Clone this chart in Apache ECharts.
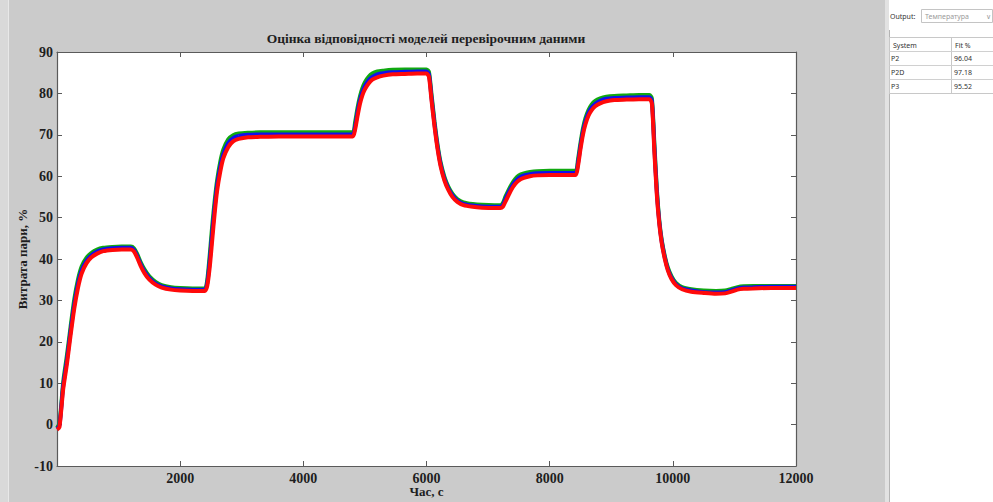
<!DOCTYPE html>
<html>
<head>
<meta charset="utf-8">
<script src="https://cdn.jsdelivr.net/npm/echarts@6/dist/echarts.min.js"></script>
<style>
  html, body { margin: 0; padding: 0; background: #cbcbcb; }
  #chart { width: 993px; height: 502px; }
</style>
</head>
<body>
<div id="chart"></div>
<script>
// Time, s
const timeS = [
  0, 40, 100, 160, 220, 280, 340, 400, 480, 560,
  650, 750, 900, 1050, 1200, 1250, 1300, 1360, 1420, 1500,
  1600, 1700, 1850, 2000, 2200, 2400, 2440, 2480, 2520, 2560,
  2600, 2650, 2700, 2780, 2860, 2950, 3100, 3300, 3600, 4000,
  4400, 4800, 4840, 4880, 4920, 4960, 5000, 5060, 5120, 5200,
  5300, 5450, 5650, 5850, 6000, 6040, 6080, 6130, 6180, 6230,
  6290, 6350, 6420, 6500, 6600, 6750, 6900, 7100, 7200, 7240,
  7280, 7330, 7380, 7440, 7500, 7580, 7680, 7800, 8000, 8200,
  8420, 8460, 8500, 8540, 8580, 8630, 8680, 8740, 8820, 8920,
  9050, 9250, 9450, 9620, 9660, 9700, 9740, 9780, 9820, 9870,
  9920, 9980, 10050, 10150, 10300, 10500, 10700, 10850, 10950, 11050,
  11150, 11300, 11600, 12000
];

// Model outputs, steam flow %
const modelGreen = [
  -0.8, 0.3, 10.2, 16.6, 23.6, 30.2, 35.0, 38.2, 40.3, 41.5,
  42.3, 42.7, 42.9, 43.0, 43.0, 42.6, 41.3, 39.2, 37.5, 35.8,
  34.5, 33.7, 33.2, 33.0, 32.9, 32.9, 35.0, 41.0, 48.0, 54.0,
  59.0, 63.4, 66.4, 68.9, 69.9, 70.3, 70.5, 70.6, 70.6, 70.6,
  70.6, 70.6, 73.0, 76.5, 79.3, 81.3, 82.7, 84.0, 84.8, 85.3,
  85.5, 85.7, 85.8, 85.8, 85.8, 85.2, 80.0, 73.3, 67.6, 63.3,
  59.9, 57.6, 55.8, 54.5, 53.7, 53.3, 53.1, 53.0, 53.0, 53.5,
  55.0, 56.6, 58.0, 59.3, 60.2, 60.7, 61.0, 61.2, 61.3, 61.3,
  61.3, 64.0, 68.0, 71.5, 74.0, 76.0, 77.3, 78.2, 78.8, 79.2,
  79.4, 79.5, 79.6, 79.6, 78.8, 68.0, 57.0, 49.4, 44.6, 40.7,
  37.9, 35.8, 34.2, 33.2, 32.7, 32.4, 32.3, 32.4, 32.8, 33.2,
  33.4, 33.5, 33.5, 33.5
];

const modelBlue = [
  -1.0, -0.2, 9.3, 15.5, 22.5, 29.0, 34.0, 37.3, 39.6, 40.9,
  41.8, 42.3, 42.6, 42.7, 42.7, 42.2, 40.8, 38.7, 37.0, 35.4,
  34.1, 33.4, 32.9, 32.7, 32.6, 32.6, 34.2, 39.5, 46.3, 52.5,
  57.8, 62.2, 65.3, 68.0, 69.2, 69.7, 70.0, 70.1, 70.1, 70.1,
  70.1, 70.1, 72.0, 75.5, 78.4, 80.4, 81.8, 83.2, 84.0, 84.6,
  84.9, 85.1, 85.2, 85.3, 85.3, 84.6, 79.2, 72.6, 67.0, 62.8,
  59.4, 57.2, 55.4, 54.1, 53.3, 52.9, 52.7, 52.6, 52.6, 53.0,
  54.4, 56.0, 57.4, 58.7, 59.6, 60.2, 60.5, 60.7, 60.8, 60.8,
  60.8, 63.2, 67.2, 70.7, 73.2, 75.3, 76.6, 77.5, 78.2, 78.7,
  78.9, 79.0, 79.1, 79.1, 78.1, 67.0, 56.2, 48.9, 44.2, 40.3,
  37.5, 35.4, 33.9, 32.9, 32.4, 32.0, 31.9, 32.0, 32.4, 32.9,
  33.1, 33.2, 33.3, 33.3
];

const modelRed = [
  -1.2, -0.6, 8.5, 14.5, 21.5, 28.0, 33.0, 36.5, 39.0, 40.4,
  41.3, 41.9, 42.2, 42.3, 42.3, 41.8, 40.4, 38.3, 36.6, 35.0,
  33.8, 33.1, 32.6, 32.4, 32.3, 32.3, 33.5, 38.0, 44.5, 51.0,
  56.5, 61.0, 64.3, 67.0, 68.4, 69.0, 69.4, 69.5, 69.6, 69.6,
  69.6, 69.6, 71.2, 74.5, 77.5, 79.6, 81.0, 82.4, 83.3, 83.9,
  84.3, 84.6, 84.7, 84.8, 84.8, 84.0, 78.5, 72.0, 66.5, 62.3,
  59.0, 56.8, 55.0, 53.8, 53.0, 52.6, 52.4, 52.3, 52.3, 52.6,
  53.8, 55.3, 56.8, 58.1, 59.0, 59.6, 60.0, 60.2, 60.3, 60.3,
  60.3, 62.5, 66.5, 70.0, 72.5, 74.6, 75.9, 76.9, 77.6, 78.1,
  78.4, 78.5, 78.6, 78.6, 77.5, 66.0, 55.5, 48.5, 43.8, 40.0,
  37.2, 35.1, 33.7, 32.7, 32.1, 31.8, 31.6, 31.7, 32.1, 32.6,
  32.8, 32.9, 33.0, 33.0
];

// Fit table in the side panel
const systemNames = ['P2', 'P2D', 'P3'];
const fitPercent = ['96.04', '97.18', '95.52'];

const yTicks = [-10, 90, 10];      // min, max, step
const xTicks = [0, 12000, 2000];   // min, max, step

const pairs = vals => timeS.map((t, i) => [t, vals[i]]);

const serif = '"Liberation Serif", "DejaVu Serif", serif';
const sans = '"Noto Sans", "Liberation Sans", sans-serif';
const axisColor = '#5a5a5a';

const chart = echarts.init(document.getElementById('chart'), null, { renderer: 'svg' });

// side panel: output selector + fit table
const panel = [
  { type: 'rect', shape: { x: 0, y: 0, width: 8, height: 502 }, style: { fill: '#d9d9d9' }, z: 0 },
  { type: 'line', shape: { x1: 8.5, y1: 0, x2: 8.5, y2: 502 }, style: { stroke: '#e8e8e8', lineWidth: 1 }, z: 0 },
  { type: 'rect', shape: { x: 885, y: 0, width: 4, height: 502 }, style: { fill: '#e2e2e2' }, z: 0 },
  { type: 'rect', shape: { x: 889, y: 0, width: 104, height: 502 }, style: { fill: '#ffffff' }, z: 0 },
  { type: 'line', shape: { x1: 889.5, y1: 30, x2: 889.5, y2: 502 }, style: { stroke: '#b4b4b4', lineWidth: 1 }, z: 1 },
  { type: 'text', x: 890, y: 16, style: { text: 'Output:', font: '7px ' + sans, fill: '#333', verticalAlign: 'middle' }, z: 2 },
  { type: 'rect', shape: { x: 921.5, y: 9.5, width: 71, height: 13 }, style: { fill: '#fff', stroke: '#c4c4c4', lineWidth: 1 }, z: 2 },
  { type: 'text', x: 925, y: 16, style: { text: 'Температура', font: '7px ' + sans, fill: '#9a9a9a', verticalAlign: 'middle' }, z: 3 },
  { type: 'text', x: 986, y: 16, style: { text: '∨', font: '7px ' + sans, fill: '#9a9a9a', verticalAlign: 'middle' }, z: 3 },
  { type: 'rect', shape: { x: 889.5, y: 37.5, width: 104, height: 56 }, style: { fill: '#fff', stroke: '#c8c8c8', lineWidth: 1 }, z: 2 },
  { type: 'line', shape: { x1: 951.5, y1: 37.5, x2: 951.5, y2: 93.5 }, style: { stroke: '#c8c8c8', lineWidth: 1 }, z: 3 },
  { type: 'text', x: 893, y: 45, style: { text: 'System', font: '7px ' + sans, fill: '#333', verticalAlign: 'middle' }, z: 3 },
  { type: 'text', x: 955, y: 45, style: { text: 'Fit %', font: '7px ' + sans, fill: '#333', verticalAlign: 'middle' }, z: 3 }
];
systemNames.forEach((name, i) => {
  const top = 51.5 + i * 14;
  panel.push({ type: 'line', shape: { x1: 889.5, y1: top, x2: 993, y2: top }, style: { stroke: '#d0d0d0', lineWidth: 1 }, z: 3 });
  panel.push({ type: 'text', x: 891, y: top + 7, style: { text: name, font: '7px ' + sans, fill: '#333', verticalAlign: 'middle' }, z: 3 });
  panel.push({ type: 'text', x: 954, y: top + 7, style: { text: fitPercent[i], font: '7px ' + sans, fill: '#333', verticalAlign: 'middle' }, z: 3 });
});

const tickStyle = { show: true, inside: true, length: 5, lineStyle: { color: axisColor, width: 1 } };
const labelStyle = { fontFamily: serif, fontWeight: 'bold', fontSize: 14, color: '#1e1e1e' };

chart.setOption({
  backgroundColor: '#cbcbcb',
  animation: false,
  title: {
    text: 'Оцінка відповідності моделей перевірочним даними',
    left: 426, textAlign: 'center', top: 31, padding: 0,
    textStyle: { fontFamily: serif, fontWeight: 'bold', fontSize: 13.5, color: '#1e1e1e' }
  },
  graphic: panel,
  grid: {
    left: 57, right: 197, top: 52, bottom: 36,
    outerBoundsMode: 'none', containLabel: false,
    show: true, backgroundColor: '#ffffff', borderWidth: 0
  },
  xAxis: [
    {
      type: 'value', position: 'bottom', min: xTicks[0], max: xTicks[1], interval: xTicks[2],
      axisLine: { show: true, onZero: false, lineStyle: { color: axisColor, width: 1.2 } },
      axisTick: tickStyle,
      axisLabel: Object.assign({ margin: 5, formatter: v => (v === 0 ? '' : String(v)) }, labelStyle),
      splitLine: { show: false },
      name: 'Час, с', nameLocation: 'middle', nameGap: 19, nameMoveOverlap: false,
      nameTextStyle: { fontFamily: serif, fontWeight: 'bold', fontSize: 13, color: '#1e1e1e' }
    },
    {
      type: 'value', position: 'top', min: xTicks[0], max: xTicks[1], interval: xTicks[2],
      axisLine: { show: true, onZero: false, lineStyle: { color: axisColor, width: 1.2 } },
      axisTick: tickStyle, axisLabel: { show: false }, splitLine: { show: false }
    }
  ],
  yAxis: [
    {
      type: 'value', position: 'left', min: yTicks[0], max: yTicks[1], interval: yTicks[2],
      axisLine: { show: true, onZero: false, lineStyle: { color: axisColor, width: 1.2 } },
      axisTick: tickStyle,
      axisLabel: Object.assign({ margin: 4 }, labelStyle),
      splitLine: { show: false },
      name: 'Витрата пари, %', nameLocation: 'middle', nameGap: 28, nameMoveOverlap: false,
      nameTextStyle: { fontFamily: serif, fontWeight: 'bold', fontSize: 13, color: '#1e1e1e' }
    },
    {
      type: 'value', position: 'right', min: yTicks[0], max: yTicks[1], interval: yTicks[2],
      axisLine: { show: true, onZero: false, lineStyle: { color: axisColor, width: 1.2 } },
      axisTick: tickStyle, axisLabel: { show: false }, splitLine: { show: false }
    }
  ],
  series: [
    { name: 'P2D', type: 'line', data: pairs(modelGreen), showSymbol: false, smooth: 0.25,
      lineStyle: { color: '#10a810', width: 4 }, z: 2 },
    { name: 'P2', type: 'line', data: pairs(modelBlue), showSymbol: false, smooth: 0.25,
      lineStyle: { color: '#1010f0', width: 4 }, z: 3 },
    { name: 'P3', type: 'line', data: pairs(modelRed), showSymbol: false, smooth: 0.25,
      lineStyle: { color: '#ff0a0a', width: 4 }, z: 4 }
  ]
});
</script>
</body>
</html>
